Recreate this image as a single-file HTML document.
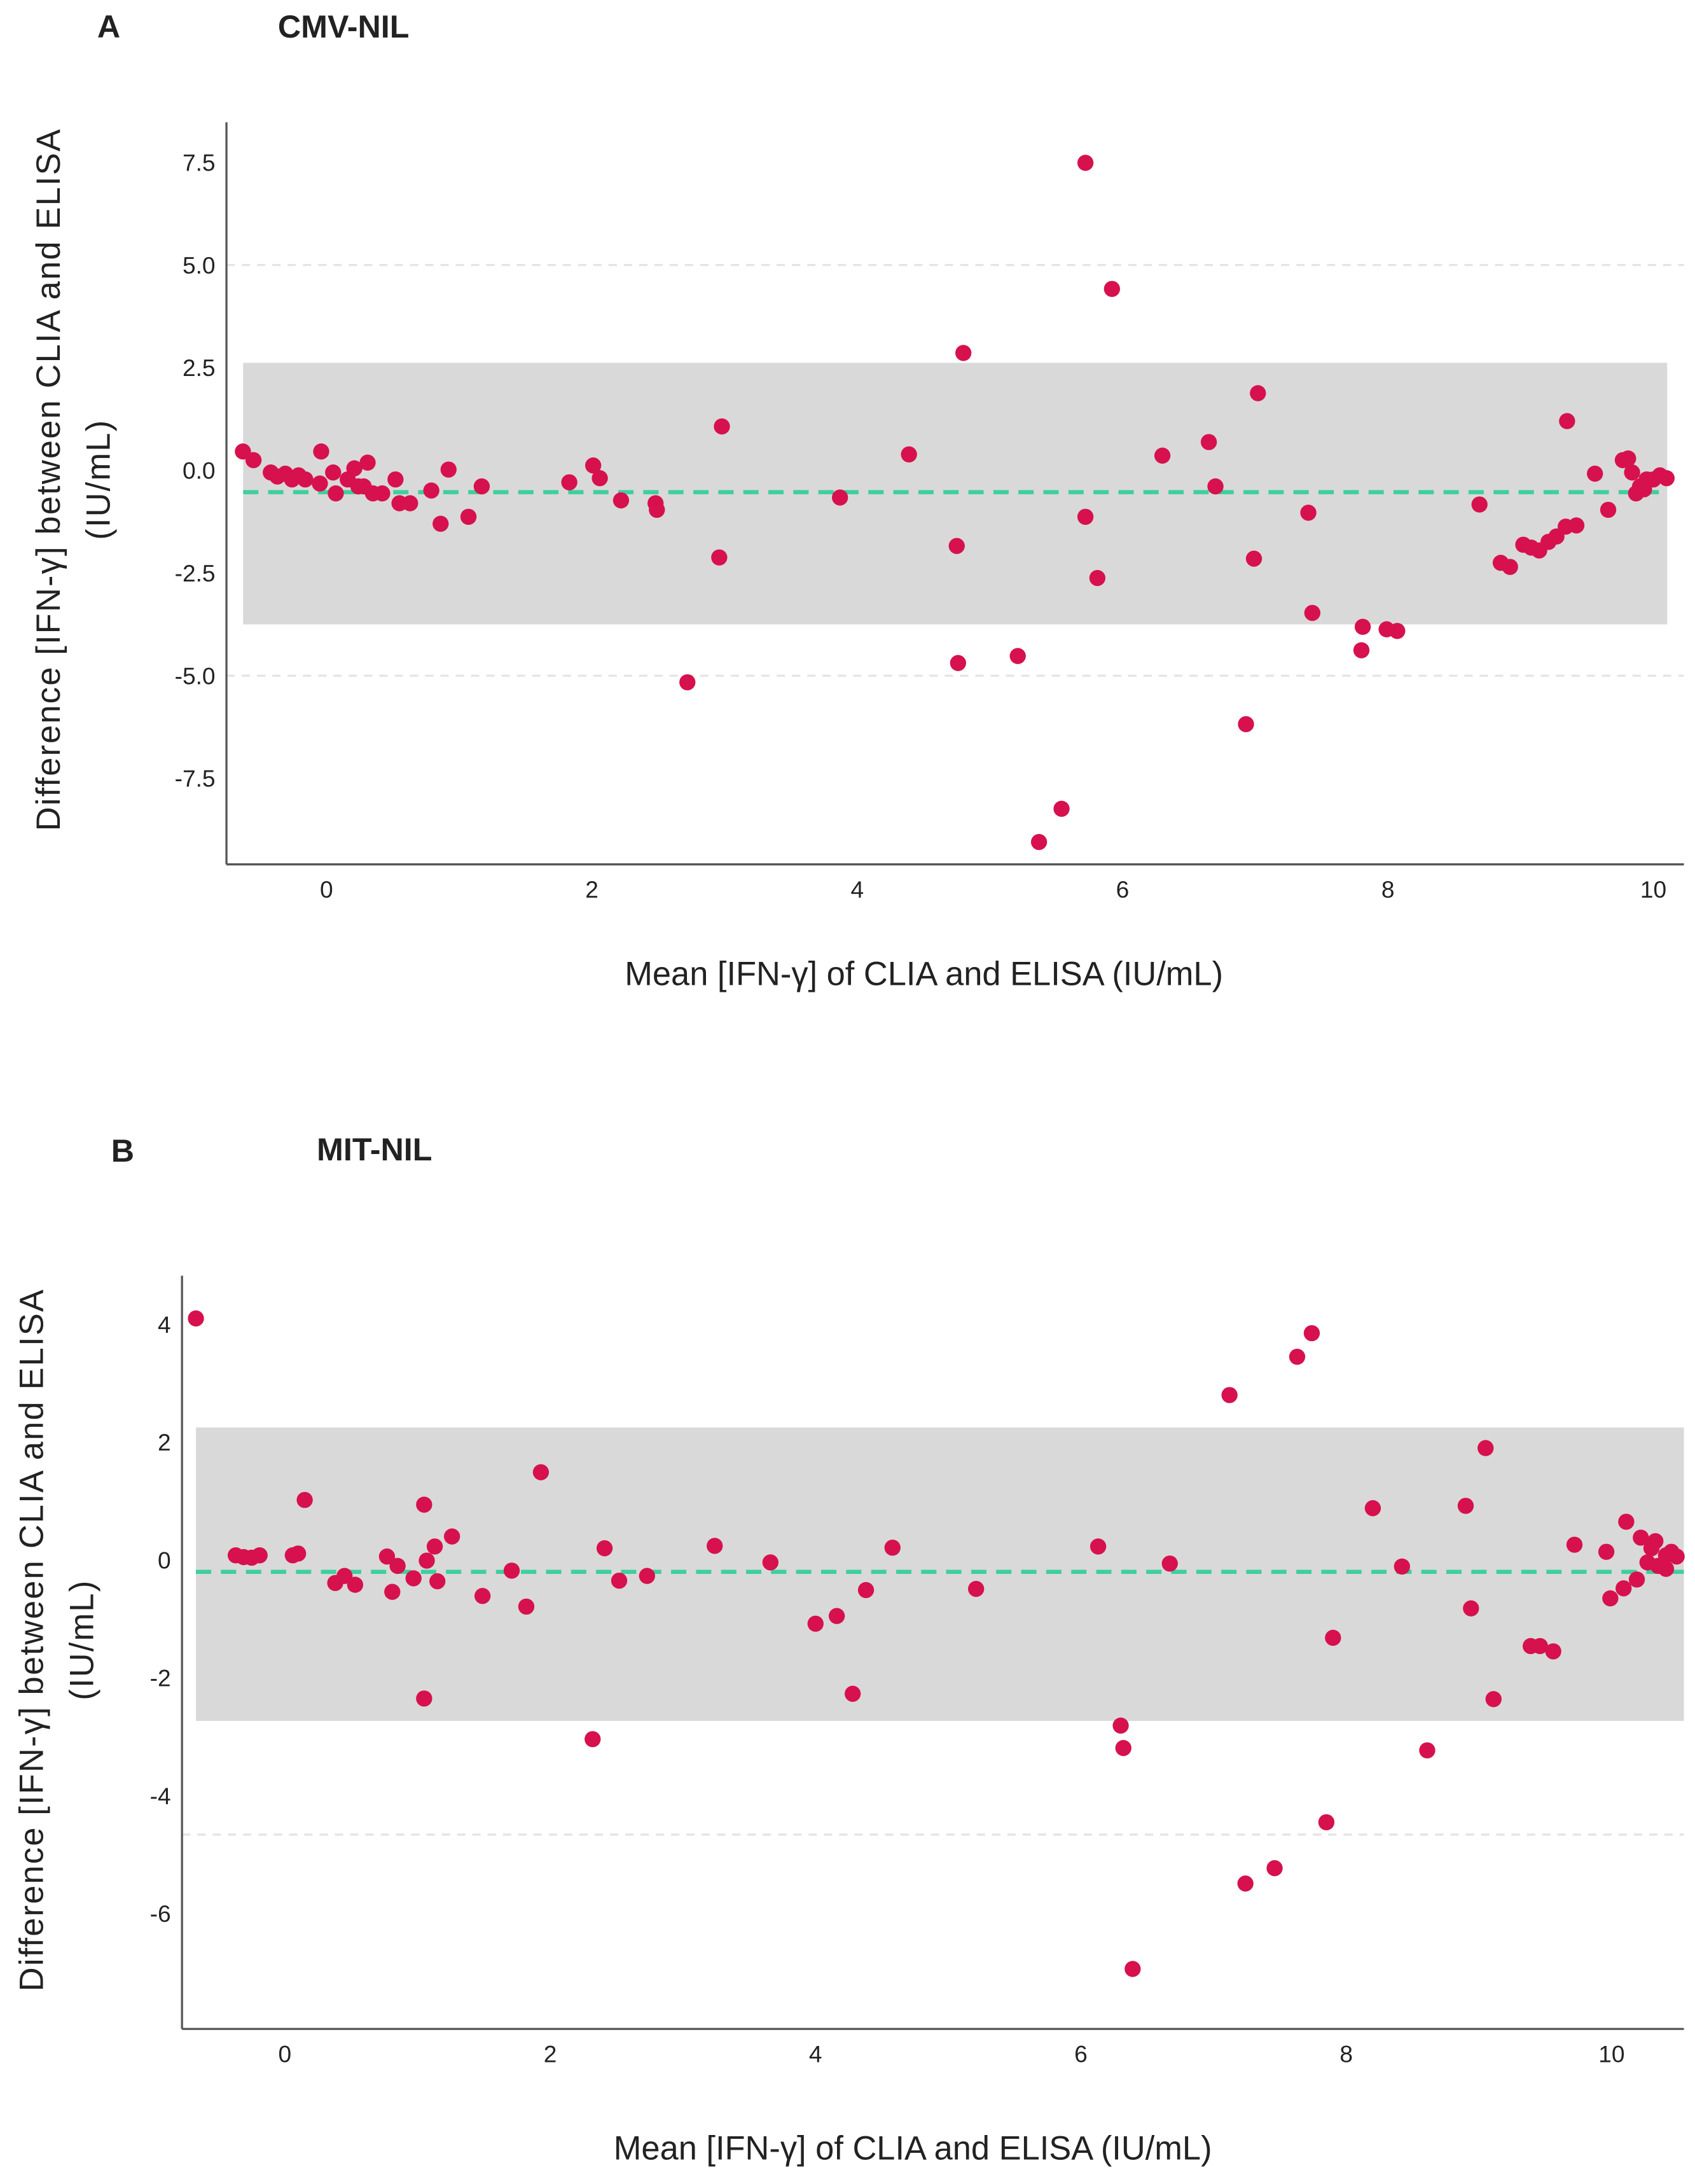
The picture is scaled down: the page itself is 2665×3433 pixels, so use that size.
<!DOCTYPE html>
<html><head><meta charset="utf-8"><style>
html,body{margin:0;padding:0;background:#fff}
svg{display:block}
text{font-family:"Liberation Sans",sans-serif;fill:#222}
</style></head><body>
<svg id="chart" width="2665" height="3433" viewBox="0 0 1220 1571.6" preserveAspectRatio="none" xmlns="http://www.w3.org/2000/svg">
<text x="70" y="27" font-size="23" font-weight="bold">A</text>
<text x="200" y="27" font-size="23" font-weight="bold">CMV-NIL</text>
<text x="80" y="836" font-size="23" font-weight="bold">B</text>
<text x="228" y="835" font-size="23" font-weight="bold">MIT-NIL</text>
<g id="pa"></g>
<g id="pb"></g>
</svg>
<script>
// Panel A data
const aX = [-0.63,-0.55,-0.42,-0.37,-0.31,-0.26,-0.21,-0.16,-0.05,-0.04,0.05,0.07,0.16,0.21,0.24,0.28,0.31,0.35,0.42,0.52,0.55,0.63,0.79,0.86,0.92,1.07,1.17,1.83,2.01,2.06,2.22,2.48,2.49,2.72,2.96,2.98,3.87,4.39,4.75,4.76,4.80,5.21,5.37,5.54,5.72,5.72,5.81,5.92,6.30,6.65,6.70,6.93,6.99,7.02,7.40,7.43,7.80,7.81,7.99,8.07,8.69,8.85,8.92,9.02,9.08,9.14,9.21,9.27,9.34,9.42,9.35,9.56,9.66,9.77,9.81,9.84,9.90,9.95,10.0,10.05,10.1,9.87,9.93];
const aY = [0.46,0.25,-0.05,-0.15,-0.08,-0.22,-0.12,-0.22,-0.32,0.46,-0.05,-0.56,-0.22,0.05,-0.39,-0.39,0.19,-0.56,-0.56,-0.22,-0.80,-0.80,-0.49,-1.30,0.02,-1.13,-0.39,-0.29,0.12,-0.19,-0.73,-0.80,-0.96,-5.16,-2.12,1.07,-0.66,0.39,-1.84,-4.69,2.86,-4.52,-9.05,-8.24,-1.13,7.49,-2.62,4.42,0.36,0.69,-0.39,-6.18,-2.15,1.88,-1.03,-3.47,-4.38,-3.81,-3.87,-3.91,-0.83,-2.25,-2.35,-1.81,-1.88,-1.95,-1.74,-1.61,-1.37,-1.34,1.20,-0.08,-0.96,0.25,0.29,-0.05,-0.39,-0.22,-0.22,-0.12,-0.19,-0.56,-0.46];
const aXTicks = [0,2,4,6,8,10];
const aYTicks = [7.5,5.0,2.5,0.0,-2.5,-5.0,-7.5];
const aStats = [2.62,-0.53,-3.75]; // upper LoA, mean, lower LoA
const aGuides = [5.0,-5.0];
// Panel B data
const bX = [-0.67,-0.37,-0.31,-0.25,-0.19,0.06,0.10,0.15,0.38,0.45,0.53,0.77,0.81,0.85,0.97,1.05,1.07,1.13,1.15,1.26,1.05,1.49,1.71,1.82,1.93,2.32,2.41,2.52,2.73,3.24,3.66,4.00,4.16,4.28,4.38,4.58,5.21,6.13,6.30,6.32,6.39,6.67,7.12,7.24,7.46,7.63,7.74,7.85,7.90,8.20,8.42,8.61,8.90,8.94,9.05,9.11,9.39,9.46,9.56,9.72,9.96,9.99,10.09,10.11,10.19,10.22,10.27,10.30,10.35,10.41,10.45,10.49,10.33,10.41];
const bY = [4.10,0.08,0.05,0.04,0.08,0.08,0.11,1.02,-0.39,-0.27,-0.42,0.06,-0.54,-0.10,-0.31,0.94,-0.01,0.23,-0.36,0.40,-2.35,-0.61,-0.18,-0.79,1.49,-3.04,0.20,-0.35,-0.27,0.24,-0.04,-1.08,-0.95,-2.27,-0.51,0.21,-0.49,0.23,-2.81,-3.19,-6.94,-0.06,2.80,-5.49,-5.23,3.45,3.85,-4.45,-1.32,0.88,-0.11,-3.23,0.92,-0.82,1.90,-2.36,-1.46,-1.46,-1.55,0.26,0.14,-0.65,-0.48,0.65,-0.33,0.38,-0.04,0.20,-0.10,0.08,0.14,0.06,0.32,-0.15];
const bXTicks = [0,2,4,6,8,10];
const bYTicks = [4,2,0,-2,-4,-6];
const bStats = [2.25,-0.2,-2.73];
const bGuides = [-4.66];

const NS="http://www.w3.org/2000/svg";
function mk(g,tag,attrs){const e=document.createElementNS(NS,tag);for(const k in attrs)e.setAttribute(k,attrs[k]);g.appendChild(e);return e;}

function panel(g,cfg,X,Y,xt,yt,stats,guides,fmt,p){
  const sx=v=>cfg.x0+v*cfg.kx, sy=v=>cfg.y0-v*cfg.ky;
  let e;
  // band
  e=mk(g,'rect',{x:cfg.bandL,y:sy(stats[0]),width:cfg.bandR-cfg.bandL,height:sy(stats[2])-sy(stats[0]),fill:'#d9d9d9'});
  
  
  guides.forEach(v=>{
    e=mk(g,'line',{x1:cfg.axL,x2:cfg.axR,y1:sy(v),y2:sy(v),stroke:'#e4e4e4','stroke-width':1.5,'stroke-dasharray':'6 5'});
    
    
  });
  e=mk(g,'line',{x1:cfg.bandL,x2:cfg.bandR,y1:sy(stats[1]),y2:sy(stats[1]),stroke:'#3ecf9e','stroke-width':3,'stroke-dasharray':'11 7'});
  
  
  // axes
  e=mk(g,'line',{x1:cfg.axL,x2:cfg.axL,y1:cfg.axT,y2:cfg.axB,stroke:'#555','stroke-width':1.5});
  
  
  e=mk(g,'line',{x1:cfg.axL,x2:cfg.axR,y1:cfg.axB,y2:cfg.axB,stroke:'#555','stroke-width':1.5});
  
  
  xt.forEach(v=>{
    e=mk(g,'text',{x:sx(v),y:cfg.axB+24,'font-size':17,'text-anchor':'middle'});e.textContent=v;
    
    
  });
  yt.forEach(v=>{
    e=mk(g,'text',{x:cfg.axL-8,y:sy(v)+6,'font-size':17,'text-anchor':'end'});e.textContent=fmt(v);
    
    
  });
  for(let i=0;i<X.length;i++){
    e=mk(g,'circle',{cx:sx(X[i]),cy:sy(Y[i]),r:5.8,fill:'#d6114e'});
    
    
  }
  e=mk(g,'text',{x:cfg.xtX,y:cfg.xtY,'font-size':24,'text-anchor':'middle'});e.textContent='Mean [IFN-γ] of CLIA and ELISA (IU/mL)';
  
  
  e=mk(g,'text',{x:0,y:0,'font-size':24,'text-anchor':'middle','letter-spacing':'1',transform:`translate(${cfg.ytX},${cfg.ytY}) rotate(-90)`});e.textContent='Difference [IFN-γ] between CLIA and ELISA';
  
  
  e=mk(g,'text',{x:0,y:0,'font-size':24,'text-anchor':'middle','letter-spacing':'1',transform:`translate(${cfg.ytX+36},${cfg.ytY}) rotate(-90)`});e.textContent='(IU/mL)';
  
  
}
panel(document.getElementById('pa'),{x0:235,kx:95.5,y0:338.5,ky:29.55,axL:163,axR:1212,axT:88,axB:622,bandL:175,bandR:1200,xtX:665,xtY:709,ytX:43,ytY:345},aX,aY,aXTicks,aYTicks,aStats,aGuides,v=>v.toFixed(1),'panel-a-');
panel(document.getElementById('pb'),{x0:205,kx:95.5,y0:1122.6,ky:42.4,axL:131,axR:1212,axT:918,axB:1460,bandL:141,bandR:1212,xtX:657,xtY:1554,ytX:31,ytY:1180},bX,bY,bXTicks,bYTicks,bStats,bGuides,v=>String(v),'panel-b-');
</script>
</body></html>
